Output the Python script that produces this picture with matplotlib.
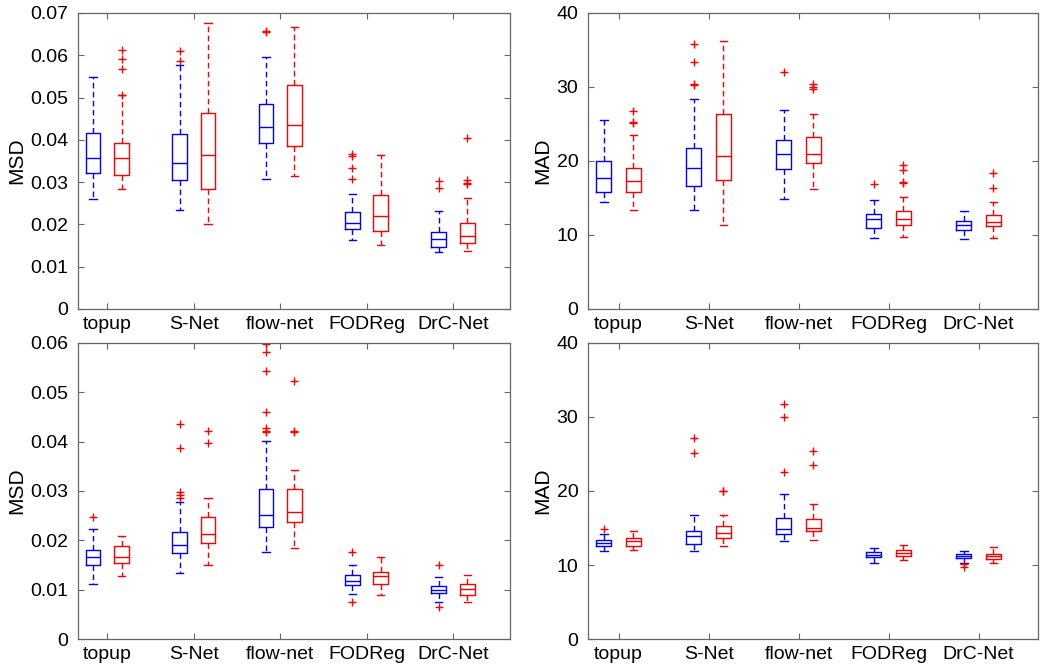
import matplotlib
matplotlib.use("Agg")
import matplotlib.pyplot as plt

plt.rcParams['font.family'] = ['Liberation Sans', 'DejaVu Sans']

methods = ["topup", "S-Net", "flow-net", "FODReg", "DrC-Net"]

# box stats per method: (whislo, q1, median, q3, whishi)
# top left, MSD
tl_blue = [(0.0260, 0.0321, 0.0358, 0.0417, 0.0548),
           (0.0234, 0.0305, 0.0346, 0.0413, 0.0576),
           (0.0307, 0.0393, 0.0431, 0.0484, 0.0596),
           (0.0164, 0.0188, 0.0204, 0.0229, 0.0272),
           (0.0134, 0.0147, 0.0166, 0.0182, 0.0231)]
tl_blue_out = [[], [0.0609, 0.0586], [0.0657, 0.0655],
               [0.0367, 0.0362, 0.0333, 0.0307], [0.0303, 0.0287]]
tl_red = [(0.0284, 0.0318, 0.0356, 0.0393, 0.0505),
          (0.0201, 0.0284, 0.0363, 0.0463, 0.0676),
          (0.0315, 0.0386, 0.0436, 0.0529, 0.0666),
          (0.0152, 0.0184, 0.0219, 0.0269, 0.0365),
          (0.0138, 0.0156, 0.0173, 0.0203, 0.0262)]
tl_red_out = [[0.0613, 0.0591, 0.0568, 0.0507], [], [], [],
              [0.0404, 0.0305, 0.0299, 0.0295]]

# top right, MAD
tr_blue = [(14.4, 15.85, 17.65, 19.95, 25.55),
           (13.4, 16.6, 19.1, 21.7, 28.4),
           (14.8, 18.9, 21.0, 22.9, 26.9),
           (9.6, 11.0, 12.1, 12.8, 14.7),
           (9.4, 10.65, 11.3, 11.9, 13.2)]
tr_blue_out = [[], [35.85, 33.4, 30.35, 30.2], [32.05], [16.9], []]
tr_red = [(13.4, 15.75, 17.3, 19.0, 23.5),
          (11.4, 17.4, 20.7, 26.3, 36.25),
          (16.2, 19.7, 21.0, 23.3, 26.3),
          (9.7, 11.3, 12.1, 13.2, 15.1),
          (9.6, 11.2, 11.75, 12.7, 14.45)]
tr_red_out = [[26.8, 25.2, 25.15], [], [30.4, 30.05, 29.75],
              [19.4, 18.8, 17.1, 17.0], [18.35, 16.35]]

# bottom left, MSD
bl_blue = [(0.0112, 0.0151, 0.0166, 0.0180, 0.0222),
           (0.0133, 0.0174, 0.0191, 0.0216, 0.0278),
           (0.0176, 0.0228, 0.0251, 0.0305, 0.0402),
           (0.0091, 0.0110, 0.0118, 0.0130, 0.0151),
           (0.0075, 0.0093, 0.0099, 0.0107, 0.0126)]
bl_blue_out = [[0.0247], [0.0436, 0.0387, 0.0297, 0.0292, 0.0285],
               [0.0600, 0.0597, 0.0581, 0.0543, 0.0461, 0.0427, 0.0422, 0.0420],
               [0.0176, 0.0076], [0.0150, 0.0064]]
bl_red = [(0.0128, 0.0154, 0.0167, 0.0188, 0.0208),
          (0.0150, 0.0195, 0.0212, 0.0247, 0.0285),
          (0.0185, 0.0237, 0.0257, 0.0305, 0.0342),
          (0.0089, 0.0111, 0.0127, 0.0135, 0.0166),
          (0.0075, 0.0089, 0.0101, 0.0112, 0.0130)]
bl_red_out = [[], [0.0422, 0.0397], [0.0522, 0.0422, 0.0419], [], []]

# bottom right, MAD
br_blue = [(11.85, 12.57, 12.97, 13.33, 14.14),
           (11.9, 12.9, 13.9, 14.6, 16.8),
           (13.25, 14.25, 14.85, 16.4, 19.55),
           (10.25, 11.05, 11.4, 11.75, 12.25),
           (10.3, 10.95, 11.2, 11.45, 11.9)]
br_blue_out = [[14.85], [27.1, 25.15], [31.75, 29.95, 22.55], [], [10.1, 9.75]]
br_red = [(12.07, 12.6, 13.2, 13.65, 14.6),
          (12.5, 13.6, 14.3, 15.3, 16.7),
          (13.4, 14.55, 14.95, 16.2, 18.2),
          (10.65, 11.2, 11.6, 12.0, 12.75),
          (10.3, 10.85, 11.2, 11.5, 12.4)]
br_red_out = [[], [20.05, 19.95], [25.45, 23.45], [], []]


def make_stats(boxes, outs):
    stats = []
    for (lo, q1, med, q3, hi), fl in zip(boxes, outs):
        stats.append(dict(whislo=lo, q1=q1, med=med, q3=q3, whishi=hi, fliers=fl))
    return stats


def draw_panel(ax, blue, blue_out, red, red_out, ymax, yticks, ylabel, fmt):
    groups = range(1, len(methods) + 1)
    for boxes, outs, col, off in [(blue, blue_out, "blue", -0.165),
                                  (red, red_out, "red", 0.165)]:
        pos = [g + off for g in groups]
        ax.bxp(make_stats(boxes, outs), positions=pos, widths=0.17,
               boxprops=dict(color=col, lw=1.0),
               medianprops=dict(color=col, lw=1.0),
               whiskerprops=dict(color=col, lw=1.0, linestyle=(0, (4, 2.5))),
               capprops=dict(color=col, lw=1.0),
               flierprops=dict(marker="+", markeredgecolor="red",
                               markersize=6, markeredgewidth=1.0),
               manage_ticks=False)
    ax.set_xlim(0.66, 5.66)
    ax.set_ylim(0, ymax)
    ax.set_xticks(list(groups))
    ax.set_xticklabels(methods)
    ax.set_yticks(yticks)
    ax.set_yticklabels([fmt(v) for v in yticks])
    ax.set_ylabel(ylabel, fontsize=15, labelpad=3)
    ax.tick_params(direction="in", length=4, top=True, right=True,
                   labelsize=14, color="#666666")
    ax.tick_params(axis="x", pad=5)
    ax.tick_params(axis="y", pad=7)
    for sp in ax.spines.values():
        sp.set_color("#666666")
        sp.set_linewidth(0.9)


def fmt_msd(v):
    return "0" if v == 0 else "%g" % round(v, 2)


def fmt_mad(v):
    return "%d" % v


fig = plt.figure(figsize=(10.5, 6.72), dpi=100)
ax_tl = fig.add_axes([0.0743, 0.5402, 0.4114, 0.4405])
ax_tr = fig.add_axes([0.5600, 0.5402, 0.4286, 0.4405])
ax_bl = fig.add_axes([0.0743, 0.0491, 0.4114, 0.4405])
ax_br = fig.add_axes([0.5600, 0.0491, 0.4286, 0.4405])

draw_panel(ax_tl, tl_blue, tl_blue_out, tl_red, tl_red_out, 0.07,
           [0, 0.01, 0.02, 0.03, 0.04, 0.05, 0.06, 0.07], "MSD", fmt_msd)
draw_panel(ax_tr, tr_blue, tr_blue_out, tr_red, tr_red_out, 40,
           [0, 10, 20, 30, 40], "MAD", fmt_mad)
draw_panel(ax_bl, bl_blue, bl_blue_out, bl_red, bl_red_out, 0.06,
           [0, 0.01, 0.02, 0.03, 0.04, 0.05, 0.06], "MSD", fmt_msd)
draw_panel(ax_br, br_blue, br_blue_out, br_red, br_red_out, 40,
           [0, 10, 20, 30, 40], "MAD", fmt_mad)

fig.savefig("out.png", dpi=100)
